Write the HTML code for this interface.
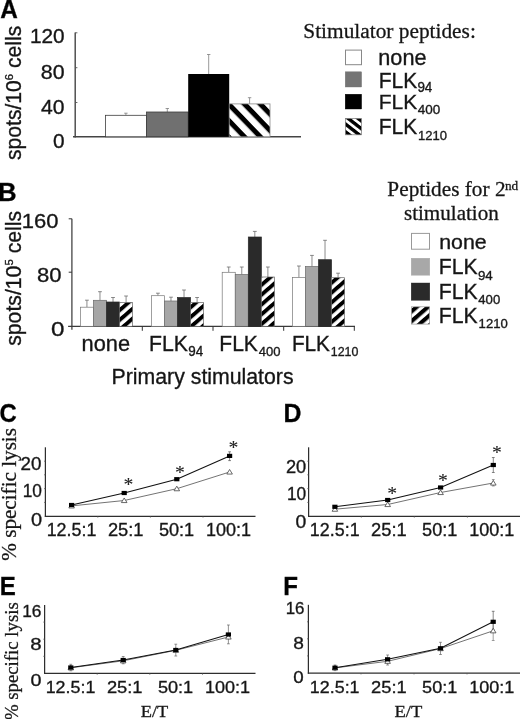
<!DOCTYPE html>
<html lang="en"><head><meta charset="utf-8"><title>Figure</title>
<style>
html,body{margin:0;padding:0;background:#fff;}
body{width:520px;height:719px;overflow:hidden;}
svg{display:block;}
.ss{font-family:"Liberation Sans", Arial, Helvetica, sans-serif;stroke:#222;stroke-width:0.35px;}
.sr{font-family:"Liberation Serif", "Times New Roman", Times, serif;stroke:#222;stroke-width:0.3px;}
</style></head><body>
<svg width="520" height="719" viewBox="0 0 520 719">
<rect x="0" y="0" width="520" height="719" fill="#fff"/>
<defs>
<pattern id="hA" width="11.4" height="11.4" patternUnits="userSpaceOnUse" patternTransform="translate(248.3 104.4) rotate(46)">
<rect width="11.4" height="11.4" fill="#fff"/><rect y="0" width="11.4" height="5.0" fill="#000"/></pattern>
<pattern id="hB" width="7.4" height="7.4" patternUnits="userSpaceOnUse" patternTransform="translate(118.9 308.3) rotate(-41)">
<rect width="7.4" height="7.4" fill="#fff"/><rect y="0" width="7.4" height="3.9" fill="#000"/></pattern>
<pattern id="hLA" width="6.1" height="6.1" patternUnits="userSpaceOnUse" patternTransform="translate(345 121.5) rotate(38)">
<rect width="6.1" height="6.1" fill="#fff"/><rect y="0" width="6.1" height="3.4" fill="#000"/></pattern>
<pattern id="hLB" width="7.4" height="7.4" patternUnits="userSpaceOnUse" patternTransform="translate(419.5 311.6) rotate(-41)">
<rect width="7.4" height="7.4" fill="#fff"/><rect y="0" width="7.4" height="4.1" fill="#000"/></pattern>
</defs>
<text class="ss" transform="translate(0.19 17.60) scale(0.954 1)" font-size="25.51" font-weight="bold" fill="#000">A</text>
<line x1="75.20" y1="32.50" x2="75.20" y2="137.40" stroke="#444" stroke-width="1.4"/>
<line x1="73.00" y1="136.80" x2="301.00" y2="136.80" stroke="#444" stroke-width="1.4"/>
<line x1="75.20" y1="32.80" x2="77.40" y2="32.80" stroke="#555" stroke-width="0.9"/>
<line x1="75.20" y1="67.70" x2="77.40" y2="67.70" stroke="#555" stroke-width="0.9"/>
<line x1="75.20" y1="102.50" x2="77.40" y2="102.50" stroke="#555" stroke-width="0.9"/>
<text class="ss" transform="translate(29.94 43.31) scale(1.069 1)" font-size="19.44" fill="#141414">120</text>
<text class="ss" transform="translate(40.84 78.70) scale(1.083 1)" font-size="19.72" fill="#141414">80</text>
<text class="ss" transform="translate(41.08 113.60) scale(1.057 1)" font-size="20.00" fill="#141414">40</text>
<text class="ss" transform="translate(52.97 147.81) scale(1.072 1)" font-size="19.44" fill="#141414">0</text>
<text class="ss" transform="translate(20.60 159.93) rotate(-90) scale(0.982 1)" font-size="21.50" fill="#141414">spots/10<tspan font-size="11.50" dy="-7.74">6</tspan><tspan dy="7.74"> cells</tspan></text>
<line x1="125.90" y1="113.20" x2="125.90" y2="115.30" stroke="#777" stroke-width="0.75"/>
<line x1="124.20" y1="113.20" x2="127.60" y2="113.20" stroke="#777" stroke-width="0.75"/>
<line x1="167.30" y1="108.50" x2="167.30" y2="112.00" stroke="#777" stroke-width="0.75"/>
<line x1="165.60" y1="108.50" x2="169.00" y2="108.50" stroke="#777" stroke-width="0.75"/>
<line x1="208.70" y1="54.50" x2="208.70" y2="74.00" stroke="#777" stroke-width="0.75"/>
<line x1="207.00" y1="54.50" x2="210.40" y2="54.50" stroke="#777" stroke-width="0.75"/>
<line x1="249.60" y1="97.70" x2="249.60" y2="103.90" stroke="#777" stroke-width="0.75"/>
<line x1="247.90" y1="97.70" x2="251.30" y2="97.70" stroke="#777" stroke-width="0.75"/>
<rect x="105.40" y="115.30" width="41.00" height="21.50" fill="#fff" stroke="#3c3c3c" stroke-width="0.8"/>
<rect x="146.40" y="112.00" width="41.80" height="24.80" fill="#707070" stroke="#3c3c3c" stroke-width="0.8"/>
<rect x="188.20" y="74.00" width="41.00" height="62.80" fill="#000" stroke="none" stroke-width="0"/>
<rect x="229.20" y="103.90" width="40.80" height="32.90" fill="url(#hA)" stroke="#888" stroke-width="0.8"/>
<text class="sr" transform="translate(303.31 38.06) scale(1.012 1)" font-size="21.10" fill="#141414">Stimulator peptides:</text>
<rect x="345.50" y="50.10" width="16.00" height="14.60" fill="#fff" stroke="#888" stroke-width="1"/>
<rect x="345.20" y="71.80" width="16.40" height="15.20" fill="#747474" stroke="#747474" stroke-width="0.4"/>
<rect x="345.20" y="94.20" width="16.40" height="14.80" fill="#000" stroke="#000" stroke-width="0.4"/>
<rect x="345.40" y="118.50" width="16.00" height="16.30" fill="url(#hLA)" stroke="#777" stroke-width="0.7"/>
<text class="ss" transform="translate(378.29 65.00) scale(1.010 1)" font-size="21.48" fill="#141414">none</text>
<text class="ss" transform="translate(378.72 87.50) scale(0.965 1)" font-size="21.74" fill="#141414">FLK<tspan x="40.08" y="4.78" font-size="13.92">94</tspan></text>
<text class="ss" transform="translate(378.72 109.00) scale(1.012 1)" font-size="20.72" fill="#141414">FLK<tspan x="38.54" y="5.18" font-size="13.32">400</tspan></text>
<text class="ss" transform="translate(378.72 134.40) scale(0.965 1)" font-size="21.74" fill="#141414">FLK<tspan x="40.73" y="5.68" font-size="13.52">1210</tspan></text>
<text class="ss" transform="translate(-2.07 201.40) scale(1.015 1)" font-size="25.36" font-weight="bold" fill="#000">B</text>
<line x1="71.90" y1="218.80" x2="71.90" y2="329.80" stroke="#444" stroke-width="1.3"/>
<line x1="68.10" y1="326.30" x2="355.00" y2="326.30" stroke="#3a3a3a" stroke-width="1.3"/>
<line x1="68.70" y1="218.80" x2="71.90" y2="218.80" stroke="#333" stroke-width="1"/>
<line x1="68.70" y1="272.20" x2="71.90" y2="272.20" stroke="#333" stroke-width="1"/>
<line x1="142.30" y1="326.30" x2="142.30" y2="330.80" stroke="#333" stroke-width="1"/>
<line x1="213.00" y1="326.30" x2="213.00" y2="330.80" stroke="#333" stroke-width="1"/>
<line x1="283.70" y1="326.30" x2="283.70" y2="330.80" stroke="#333" stroke-width="1"/>
<line x1="354.30" y1="326.30" x2="354.30" y2="330.80" stroke="#333" stroke-width="1"/>
<text class="ss" transform="translate(21.85 228.10) scale(1.092 1)" font-size="20.14" fill="#141414">160</text>
<text class="ss" transform="translate(36.91 281.50) scale(1.087 1)" font-size="20.28" fill="#141414">80</text>
<text class="ss" transform="translate(50.93 335.80) scale(1.183 1)" font-size="20.42" fill="#141414">0</text>
<text class="ss" transform="translate(20.90 345.84) rotate(-90) scale(0.988 1)" font-size="21.50" fill="#141414">spots/10<tspan font-size="11.50" dy="-7.74">5</tspan><tspan dy="7.74"> cells</tspan></text>
<line x1="86.93" y1="300.20" x2="86.93" y2="307.20" stroke="#666" stroke-width="0.75"/>
<line x1="85.03" y1="300.20" x2="88.83" y2="300.20" stroke="#666" stroke-width="0.75"/>
<line x1="99.98" y1="291.70" x2="99.98" y2="300.30" stroke="#666" stroke-width="0.75"/>
<line x1="98.08" y1="291.70" x2="101.88" y2="291.70" stroke="#666" stroke-width="0.75"/>
<line x1="113.03" y1="297.50" x2="113.03" y2="302.00" stroke="#666" stroke-width="0.75"/>
<line x1="111.12" y1="297.50" x2="114.93" y2="297.50" stroke="#666" stroke-width="0.75"/>
<line x1="126.08" y1="296.00" x2="126.08" y2="302.50" stroke="#666" stroke-width="0.75"/>
<line x1="124.18" y1="296.00" x2="127.98" y2="296.00" stroke="#666" stroke-width="0.75"/>
<rect x="80.40" y="307.20" width="13.05" height="19.10" fill="#fff" stroke="#777" stroke-width="0.7"/>
<rect x="93.45" y="300.30" width="13.05" height="26.00" fill="#a6a6a6" stroke="#6a6a6a" stroke-width="0.7"/>
<rect x="106.50" y="302.00" width="13.05" height="24.30" fill="#2a2a2a" stroke="#2a2a2a" stroke-width="0.7"/>
<rect x="119.55" y="302.50" width="13.05" height="23.80" fill="url(#hB)" stroke="#666" stroke-width="0.7"/>
<line x1="157.93" y1="293.20" x2="157.93" y2="295.70" stroke="#666" stroke-width="0.75"/>
<line x1="156.03" y1="293.20" x2="159.83" y2="293.20" stroke="#666" stroke-width="0.75"/>
<line x1="170.98" y1="297.20" x2="170.98" y2="301.00" stroke="#666" stroke-width="0.75"/>
<line x1="169.08" y1="297.20" x2="172.88" y2="297.20" stroke="#666" stroke-width="0.75"/>
<line x1="184.03" y1="290.00" x2="184.03" y2="297.50" stroke="#666" stroke-width="0.75"/>
<line x1="182.12" y1="290.00" x2="185.93" y2="290.00" stroke="#666" stroke-width="0.75"/>
<line x1="197.08" y1="297.50" x2="197.08" y2="302.50" stroke="#666" stroke-width="0.75"/>
<line x1="195.18" y1="297.50" x2="198.98" y2="297.50" stroke="#666" stroke-width="0.75"/>
<rect x="151.40" y="295.70" width="13.05" height="30.60" fill="#fff" stroke="#777" stroke-width="0.7"/>
<rect x="164.45" y="301.00" width="13.05" height="25.30" fill="#a6a6a6" stroke="#6a6a6a" stroke-width="0.7"/>
<rect x="177.50" y="297.50" width="13.05" height="28.80" fill="#2a2a2a" stroke="#2a2a2a" stroke-width="0.7"/>
<rect x="190.55" y="302.50" width="13.05" height="23.80" fill="url(#hB)" stroke="#666" stroke-width="0.7"/>
<line x1="228.72" y1="267.00" x2="228.72" y2="272.30" stroke="#666" stroke-width="0.75"/>
<line x1="226.82" y1="267.00" x2="230.62" y2="267.00" stroke="#666" stroke-width="0.75"/>
<line x1="241.78" y1="267.00" x2="241.78" y2="274.50" stroke="#666" stroke-width="0.75"/>
<line x1="239.88" y1="267.00" x2="243.68" y2="267.00" stroke="#666" stroke-width="0.75"/>
<line x1="254.82" y1="231.40" x2="254.82" y2="237.00" stroke="#666" stroke-width="0.75"/>
<line x1="252.92" y1="231.40" x2="256.72" y2="231.40" stroke="#666" stroke-width="0.75"/>
<line x1="267.88" y1="267.00" x2="267.88" y2="277.00" stroke="#666" stroke-width="0.75"/>
<line x1="265.98" y1="267.00" x2="269.77" y2="267.00" stroke="#666" stroke-width="0.75"/>
<rect x="222.20" y="272.30" width="13.05" height="54.00" fill="#fff" stroke="#777" stroke-width="0.7"/>
<rect x="235.25" y="274.50" width="13.05" height="51.80" fill="#a6a6a6" stroke="#6a6a6a" stroke-width="0.7"/>
<rect x="248.30" y="237.00" width="13.05" height="89.30" fill="#2a2a2a" stroke="#2a2a2a" stroke-width="0.7"/>
<rect x="261.35" y="277.00" width="13.05" height="49.30" fill="url(#hB)" stroke="#666" stroke-width="0.7"/>
<line x1="298.92" y1="266.00" x2="298.92" y2="277.50" stroke="#666" stroke-width="0.75"/>
<line x1="297.02" y1="266.00" x2="300.82" y2="266.00" stroke="#666" stroke-width="0.75"/>
<line x1="311.97" y1="255.40" x2="311.97" y2="266.50" stroke="#666" stroke-width="0.75"/>
<line x1="310.07" y1="255.40" x2="313.87" y2="255.40" stroke="#666" stroke-width="0.75"/>
<line x1="325.02" y1="240.30" x2="325.02" y2="259.70" stroke="#666" stroke-width="0.75"/>
<line x1="323.12" y1="240.30" x2="326.92" y2="240.30" stroke="#666" stroke-width="0.75"/>
<line x1="338.07" y1="273.20" x2="338.07" y2="277.70" stroke="#666" stroke-width="0.75"/>
<line x1="336.17" y1="273.20" x2="339.97" y2="273.20" stroke="#666" stroke-width="0.75"/>
<rect x="292.40" y="277.50" width="13.05" height="48.80" fill="#fff" stroke="#777" stroke-width="0.7"/>
<rect x="305.45" y="266.50" width="13.05" height="59.80" fill="#a6a6a6" stroke="#6a6a6a" stroke-width="0.7"/>
<rect x="318.50" y="259.70" width="13.05" height="66.60" fill="#2a2a2a" stroke="#2a2a2a" stroke-width="0.7"/>
<rect x="331.55" y="277.70" width="13.05" height="48.60" fill="url(#hB)" stroke="#666" stroke-width="0.7"/>
<text class="ss" transform="translate(81.58 351.00) scale(1.015 1)" font-size="21.48" fill="#141414">none</text>
<text class="ss" transform="translate(149.10 351.00) scale(0.976 1)" font-size="21.74" fill="#141414">FLK<tspan x="40.07" y="5.08" font-size="13.77">94</tspan></text>
<text class="ss" transform="translate(219.32 350.80) scale(0.981 1)" font-size="21.45" fill="#141414">FLK<tspan x="40.20" y="5.28" font-size="13.30">400</tspan></text>
<text class="ss" transform="translate(291.94 350.80) scale(0.967 1)" font-size="21.45" fill="#141414">FLK<tspan x="40.14" y="5.28" font-size="12.86">1210</tspan></text>
<text class="ss" transform="translate(111.59 383.53)" font-size="21.28" fill="#141414">Primary stimulators</text>
<text class="sr" transform="translate(387.36 195.80) scale(1.035 1)" font-size="20.57" fill="#141414">Peptides for 2<tspan x="113.64" y="-5.61" font-size="12.85">nd</tspan></text>
<text class="sr" transform="translate(403.96 220.20) scale(1.032 1)" font-size="20.43" fill="#141414">stimulation</text>
<rect x="411.50" y="233.40" width="18.00" height="15.80" fill="#fff" stroke="#999" stroke-width="1"/>
<rect x="411.20" y="258.20" width="18.60" height="17.00" fill="#a8a8a8" stroke="#a8a8a8" stroke-width="0.4"/>
<rect x="411.20" y="283.00" width="18.60" height="17.30" fill="#2a2a2a" stroke="#2a2a2a" stroke-width="0.4"/>
<rect x="411.40" y="306.80" width="18.20" height="17.30" fill="url(#hLB)" stroke="#999" stroke-width="0.7"/>
<text class="ss" transform="translate(439.21 249.00) scale(1.079 1)" font-size="19.81" fill="#141414">none</text>
<text class="ss" transform="translate(438.70 274.20) scale(0.976 1)" font-size="21.74" fill="#141414">FLK<tspan x="40.18" y="5.68" font-size="13.67">94</tspan></text>
<text class="ss" transform="translate(438.70 299.20) scale(0.976 1)" font-size="21.74" fill="#141414">FLK<tspan x="40.53" y="4.88" font-size="13.50">400</tspan></text>
<text class="ss" transform="translate(438.70 323.40) scale(1.002 1)" font-size="21.16" fill="#141414">FLK<tspan x="39.82" y="4.99" font-size="13.07">1210</tspan></text>
<text class="ss" transform="translate(-0.45 422.25) scale(0.934 1)" font-size="25.49" font-weight="bold" fill="#000">C</text>
<line x1="45.40" y1="447.30" x2="45.40" y2="516.90" stroke="#2e2e2e" stroke-width="1.25"/>
<line x1="44.80" y1="516.30" x2="255.50" y2="516.30" stroke="#2e2e2e" stroke-width="1.25"/>
<line x1="44.10" y1="461.20" x2="45.40" y2="461.20" stroke="#555" stroke-width="0.8"/>
<line x1="44.10" y1="474.80" x2="45.40" y2="474.80" stroke="#555" stroke-width="0.8"/>
<line x1="44.10" y1="488.60" x2="45.40" y2="488.60" stroke="#555" stroke-width="0.8"/>
<line x1="44.10" y1="502.40" x2="45.40" y2="502.40" stroke="#555" stroke-width="0.8"/>
<line x1="97.80" y1="516.30" x2="97.80" y2="517.60" stroke="#555" stroke-width="0.8"/>
<line x1="150.40" y1="516.30" x2="150.40" y2="517.60" stroke="#555" stroke-width="0.8"/>
<line x1="203.00" y1="516.30" x2="203.00" y2="517.60" stroke="#555" stroke-width="0.8"/>
<text class="ss" transform="translate(20.56 470.02) scale(1.036 1)" font-size="18.17" fill="#141414">20</text>
<text class="ss" transform="translate(22.70 496.82) scale(0.975 1)" font-size="17.75" fill="#141414">10</text>
<text class="ss" transform="translate(30.90 525.62) scale(1.084 1)" font-size="18.45" fill="#141414">0</text>
<line x1="229.60" y1="451.80" x2="229.60" y2="460.60" stroke="#555" stroke-width="0.7"/>
<line x1="228.20" y1="451.80" x2="231.00" y2="451.80" stroke="#555" stroke-width="0.7"/>
<line x1="228.20" y1="460.60" x2="231.00" y2="460.60" stroke="#555" stroke-width="0.7"/>
<polyline points="71.60,505.90 124.20,500.50 176.80,488.70 229.60,472.00" fill="none" stroke="#5a5a5a" stroke-width="0.85"/>
<polyline points="71.60,505.00 124.20,493.00 176.80,479.20 229.60,455.90" fill="none" stroke="#111" stroke-width="1.05"/>
<path d="M68.80 507.97 L74.40 507.97 L71.60 503.37 Z" fill="#fff" stroke="#444" stroke-width="0.8"/>
<path d="M121.40 502.57 L127.00 502.57 L124.20 497.97 Z" fill="#fff" stroke="#444" stroke-width="0.8"/>
<path d="M174.00 490.77 L179.60 490.77 L176.80 486.17 Z" fill="#fff" stroke="#444" stroke-width="0.8"/>
<path d="M226.80 474.07 L232.40 474.07 L229.60 469.47 Z" fill="#fff" stroke="#444" stroke-width="0.8"/>
<rect x="69.00" y="502.90" width="5.2" height="4.2" fill="#000"/>
<rect x="121.60" y="490.90" width="5.2" height="4.2" fill="#000"/>
<rect x="174.20" y="477.10" width="5.2" height="4.2" fill="#000"/>
<rect x="227.00" y="453.80" width="5.2" height="4.2" fill="#000"/>
<text class="sr" x="123.60" y="491.02" font-size="19.73" fill="#222" style="stroke-width:0.1px">*</text>
<text class="sr" x="175.00" y="478.82" font-size="19.73" fill="#222" style="stroke-width:0.1px">*</text>
<text class="sr" x="228.50" y="454.12" font-size="19.73" fill="#222" style="stroke-width:0.1px">*</text>
<text class="ss" transform="translate(46.66 535.62) scale(0.993 1)" font-size="18.03" fill="#141414">12.5:1</text>
<text class="ss" transform="translate(107.88 535.62) scale(1.016 1)" font-size="18.03" fill="#141414">25:1</text>
<text class="ss" transform="translate(158.88 535.62) scale(1.005 1)" font-size="18.03" fill="#141414">50:1</text>
<text class="ss" transform="translate(205.94 535.62)" font-size="18.03" fill="#141414">100:1</text>
<text class="ss" transform="translate(283.38 422.20) scale(0.987 1)" font-size="25.22" font-weight="bold" fill="#000">D</text>
<line x1="308.60" y1="447.30" x2="308.60" y2="516.90" stroke="#2e2e2e" stroke-width="1.25"/>
<line x1="308.00" y1="516.30" x2="520.00" y2="516.30" stroke="#2e2e2e" stroke-width="1.25"/>
<line x1="307.30" y1="461.20" x2="308.60" y2="461.20" stroke="#555" stroke-width="0.8"/>
<line x1="307.30" y1="474.80" x2="308.60" y2="474.80" stroke="#555" stroke-width="0.8"/>
<line x1="307.30" y1="488.60" x2="308.60" y2="488.60" stroke="#555" stroke-width="0.8"/>
<line x1="307.30" y1="502.40" x2="308.60" y2="502.40" stroke="#555" stroke-width="0.8"/>
<line x1="361.30" y1="516.30" x2="361.30" y2="517.60" stroke="#555" stroke-width="0.8"/>
<line x1="414.30" y1="516.30" x2="414.30" y2="517.60" stroke="#555" stroke-width="0.8"/>
<line x1="467.40" y1="516.30" x2="467.40" y2="517.60" stroke="#555" stroke-width="0.8"/>
<text class="ss" transform="translate(285.99 473.12) scale(1.036 1)" font-size="17.61" fill="#141414">20</text>
<text class="ss" transform="translate(287.00 500.42) scale(0.975 1)" font-size="17.75" fill="#141414">10</text>
<text class="ss" transform="translate(295.53 527.83) scale(1.109 1)" font-size="17.46" fill="#141414">0</text>
<line x1="493.30" y1="457.50" x2="493.30" y2="472.50" stroke="#555" stroke-width="0.7"/>
<line x1="491.90" y1="457.50" x2="494.70" y2="457.50" stroke="#555" stroke-width="0.7"/>
<line x1="491.90" y1="472.50" x2="494.70" y2="472.50" stroke="#555" stroke-width="0.7"/>
<line x1="493.30" y1="479.50" x2="493.30" y2="486.00" stroke="#777" stroke-width="0.7"/>
<line x1="491.90" y1="479.50" x2="494.70" y2="479.50" stroke="#777" stroke-width="0.7"/>
<line x1="491.90" y1="486.00" x2="494.70" y2="486.00" stroke="#777" stroke-width="0.7"/>
<polyline points="334.90,509.20 387.70,504.50 440.60,492.50 493.30,483.00" fill="none" stroke="#5a5a5a" stroke-width="0.85"/>
<polyline points="334.90,506.80 387.70,500.00 440.60,487.50 493.30,465.00" fill="none" stroke="#111" stroke-width="1.05"/>
<path d="M332.10 511.27 L337.70 511.27 L334.90 506.67 Z" fill="#fff" stroke="#444" stroke-width="0.8"/>
<path d="M384.90 506.57 L390.50 506.57 L387.70 501.97 Z" fill="#fff" stroke="#444" stroke-width="0.8"/>
<path d="M437.80 494.57 L443.40 494.57 L440.60 489.97 Z" fill="#fff" stroke="#444" stroke-width="0.8"/>
<path d="M490.50 485.07 L496.10 485.07 L493.30 480.47 Z" fill="#fff" stroke="#444" stroke-width="0.8"/>
<rect x="332.30" y="504.70" width="5.2" height="4.2" fill="#000"/>
<rect x="385.10" y="497.90" width="5.2" height="4.2" fill="#000"/>
<rect x="438.00" y="485.40" width="5.2" height="4.2" fill="#000"/>
<rect x="490.70" y="462.90" width="5.2" height="4.2" fill="#000"/>
<text class="sr" x="387.30" y="500.32" font-size="19.73" fill="#222" style="stroke-width:0.1px">*</text>
<text class="sr" x="438.00" y="487.32" font-size="19.73" fill="#222" style="stroke-width:0.1px">*</text>
<text class="sr" x="491.90" y="459.12" font-size="19.73" fill="#222" style="stroke-width:0.1px">*</text>
<text class="ss" transform="translate(309.86 536.12) scale(1.008 1)" font-size="17.75" fill="#141414">12.5:1</text>
<text class="ss" transform="translate(371.08 536.12) scale(1.033 1)" font-size="17.75" fill="#141414">25:1</text>
<text class="ss" transform="translate(422.08 536.12) scale(1.021 1)" font-size="17.75" fill="#141414">50:1</text>
<text class="ss" transform="translate(469.14 536.12) scale(1.018 1)" font-size="17.75" fill="#141414">100:1</text>
<text class="ss" transform="translate(-0.26 594.60) scale(0.955 1)" font-size="25.22" font-weight="bold" fill="#000">E</text>
<line x1="44.60" y1="605.00" x2="44.60" y2="674.00" stroke="#2e2e2e" stroke-width="1.25"/>
<line x1="44.00" y1="673.40" x2="255.50" y2="673.40" stroke="#2e2e2e" stroke-width="1.25"/>
<line x1="43.30" y1="622.10" x2="44.60" y2="622.10" stroke="#555" stroke-width="0.8"/>
<line x1="43.30" y1="639.20" x2="44.60" y2="639.20" stroke="#555" stroke-width="0.8"/>
<line x1="43.30" y1="656.30" x2="44.60" y2="656.30" stroke="#555" stroke-width="0.8"/>
<line x1="97.20" y1="673.40" x2="97.20" y2="674.70" stroke="#555" stroke-width="0.8"/>
<line x1="149.80" y1="673.40" x2="149.80" y2="674.70" stroke="#555" stroke-width="0.8"/>
<line x1="202.50" y1="673.40" x2="202.50" y2="674.70" stroke="#555" stroke-width="0.8"/>
<text class="ss" transform="translate(22.20 616.63)" font-size="17.32" fill="#141414">16</text>
<text class="ss" transform="translate(30.28 650.43) scale(1.199 1)" font-size="17.04" fill="#141414">8</text>
<text class="ss" transform="translate(30.51 685.53) scale(1.161 1)" font-size="17.04" fill="#141414">0</text>
<line x1="70.80" y1="664.30" x2="70.80" y2="670.80" stroke="#666" stroke-width="0.7"/>
<line x1="69.40" y1="664.30" x2="72.20" y2="664.30" stroke="#666" stroke-width="0.7"/>
<line x1="69.40" y1="670.80" x2="72.20" y2="670.80" stroke="#666" stroke-width="0.7"/>
<line x1="123.20" y1="656.50" x2="123.20" y2="663.80" stroke="#666" stroke-width="0.7"/>
<line x1="121.80" y1="656.50" x2="124.60" y2="656.50" stroke="#666" stroke-width="0.7"/>
<line x1="121.80" y1="663.80" x2="124.60" y2="663.80" stroke="#666" stroke-width="0.7"/>
<line x1="175.80" y1="644.20" x2="175.80" y2="656.00" stroke="#666" stroke-width="0.7"/>
<line x1="174.40" y1="644.20" x2="177.20" y2="644.20" stroke="#666" stroke-width="0.7"/>
<line x1="174.40" y1="656.00" x2="177.20" y2="656.00" stroke="#666" stroke-width="0.7"/>
<line x1="228.40" y1="625.00" x2="228.40" y2="643.80" stroke="#666" stroke-width="0.7"/>
<line x1="227.00" y1="625.00" x2="229.80" y2="625.00" stroke="#666" stroke-width="0.7"/>
<line x1="227.00" y1="643.80" x2="229.80" y2="643.80" stroke="#666" stroke-width="0.7"/>
<polyline points="70.80,667.80 123.20,660.80 175.80,650.30 228.40,637.00" fill="none" stroke="#5a5a5a" stroke-width="0.85"/>
<polyline points="70.80,667.50 123.20,660.00 175.80,650.00 228.40,634.50" fill="none" stroke="#111" stroke-width="1.05"/>
<path d="M68.00 669.87 L73.60 669.87 L70.80 665.27 Z" fill="#fff" stroke="#444" stroke-width="0.8"/>
<path d="M120.40 662.87 L126.00 662.87 L123.20 658.27 Z" fill="#fff" stroke="#444" stroke-width="0.8"/>
<path d="M173.00 652.37 L178.60 652.37 L175.80 647.77 Z" fill="#fff" stroke="#444" stroke-width="0.8"/>
<path d="M225.60 639.07 L231.20 639.07 L228.40 634.47 Z" fill="#fff" stroke="#444" stroke-width="0.8"/>
<rect x="68.20" y="665.40" width="5.2" height="4.2" fill="#000"/>
<rect x="120.60" y="657.90" width="5.2" height="4.2" fill="#000"/>
<rect x="173.20" y="647.90" width="5.2" height="4.2" fill="#000"/>
<rect x="225.80" y="632.40" width="5.2" height="4.2" fill="#000"/>
<text class="ss" transform="translate(45.66 693.33) scale(1.041 1)" font-size="17.18" fill="#141414">12.5:1</text>
<text class="ss" transform="translate(106.88 693.33) scale(1.066 1)" font-size="17.18" fill="#141414">25:1</text>
<text class="ss" transform="translate(157.88 693.33) scale(1.054 1)" font-size="17.18" fill="#141414">50:1</text>
<text class="ss" transform="translate(204.94 693.33) scale(1.051 1)" font-size="17.18" fill="#141414">100:1</text>
<text class="ss" transform="translate(283.33 594.60) scale(0.946 1)" font-size="25.51" font-weight="bold" fill="#000">F</text>
<line x1="308.40" y1="604.80" x2="308.40" y2="673.70" stroke="#2e2e2e" stroke-width="1.25"/>
<line x1="307.80" y1="673.10" x2="520.00" y2="673.10" stroke="#2e2e2e" stroke-width="1.25"/>
<line x1="307.10" y1="621.80" x2="308.40" y2="621.80" stroke="#555" stroke-width="0.8"/>
<line x1="307.10" y1="638.80" x2="308.40" y2="638.80" stroke="#555" stroke-width="0.8"/>
<line x1="307.10" y1="655.90" x2="308.40" y2="655.90" stroke="#555" stroke-width="0.8"/>
<line x1="361.00" y1="673.10" x2="361.00" y2="674.40" stroke="#555" stroke-width="0.8"/>
<line x1="414.00" y1="673.10" x2="414.00" y2="674.40" stroke="#555" stroke-width="0.8"/>
<line x1="467.00" y1="673.10" x2="467.00" y2="674.40" stroke="#555" stroke-width="0.8"/>
<text class="ss" transform="translate(285.63 613.63) scale(0.975 1)" font-size="17.32" fill="#141414">16</text>
<text class="ss" transform="translate(293.14 648.53) scale(1.114 1)" font-size="17.18" fill="#141414">8</text>
<text class="ss" transform="translate(293.25 682.53) scale(1.100 1)" font-size="17.04" fill="#141414">0</text>
<line x1="335.00" y1="665.00" x2="335.00" y2="670.60" stroke="#666" stroke-width="0.7"/>
<line x1="333.60" y1="665.00" x2="336.40" y2="665.00" stroke="#666" stroke-width="0.7"/>
<line x1="333.60" y1="670.60" x2="336.40" y2="670.60" stroke="#666" stroke-width="0.7"/>
<line x1="387.60" y1="655.00" x2="387.60" y2="665.00" stroke="#666" stroke-width="0.7"/>
<line x1="386.20" y1="655.00" x2="389.00" y2="655.00" stroke="#666" stroke-width="0.7"/>
<line x1="386.20" y1="665.00" x2="389.00" y2="665.00" stroke="#666" stroke-width="0.7"/>
<line x1="440.50" y1="642.30" x2="440.50" y2="654.50" stroke="#666" stroke-width="0.7"/>
<line x1="439.10" y1="642.30" x2="441.90" y2="642.30" stroke="#666" stroke-width="0.7"/>
<line x1="439.10" y1="654.50" x2="441.90" y2="654.50" stroke="#666" stroke-width="0.7"/>
<line x1="493.20" y1="611.30" x2="493.20" y2="630.00" stroke="#555" stroke-width="0.7"/>
<line x1="491.80" y1="611.30" x2="494.60" y2="611.30" stroke="#555" stroke-width="0.7"/>
<line x1="491.80" y1="630.00" x2="494.60" y2="630.00" stroke="#555" stroke-width="0.7"/>
<line x1="493.20" y1="622.00" x2="493.20" y2="640.50" stroke="#777" stroke-width="0.7"/>
<line x1="491.80" y1="622.00" x2="494.60" y2="622.00" stroke="#777" stroke-width="0.7"/>
<line x1="491.80" y1="640.50" x2="494.60" y2="640.50" stroke="#777" stroke-width="0.7"/>
<polyline points="335.00,667.90 387.60,661.30 440.50,648.60 493.20,630.80" fill="none" stroke="#5a5a5a" stroke-width="0.85"/>
<polyline points="335.00,667.70 387.60,659.30 440.50,648.30 493.20,621.80" fill="none" stroke="#111" stroke-width="1.05"/>
<path d="M332.20 669.97 L337.80 669.97 L335.00 665.37 Z" fill="#fff" stroke="#444" stroke-width="0.8"/>
<path d="M384.80 663.37 L390.40 663.37 L387.60 658.77 Z" fill="#fff" stroke="#444" stroke-width="0.8"/>
<path d="M437.70 650.67 L443.30 650.67 L440.50 646.07 Z" fill="#fff" stroke="#444" stroke-width="0.8"/>
<path d="M490.40 632.87 L496.00 632.87 L493.20 628.27 Z" fill="#fff" stroke="#444" stroke-width="0.8"/>
<rect x="332.40" y="665.60" width="5.2" height="4.2" fill="#000"/>
<rect x="385.00" y="657.20" width="5.2" height="4.2" fill="#000"/>
<rect x="437.90" y="646.20" width="5.2" height="4.2" fill="#000"/>
<rect x="490.60" y="619.70" width="5.2" height="4.2" fill="#000"/>
<text class="ss" transform="translate(309.86 692.83) scale(1.041 1)" font-size="17.18" fill="#141414">12.5:1</text>
<text class="ss" transform="translate(371.08 692.83) scale(1.066 1)" font-size="17.18" fill="#141414">25:1</text>
<text class="ss" transform="translate(422.08 692.83) scale(1.054 1)" font-size="17.18" fill="#141414">50:1</text>
<text class="ss" transform="translate(469.14 692.83) scale(1.051 1)" font-size="17.18" fill="#141414">100:1</text>
<text class="sr" transform="translate(15.80 560.74) rotate(-90) scale(0.993 1)" font-size="21.30" fill="#141414">% specific lysis</text>
<text class="sr" transform="translate(18.30 720.06) rotate(-90) scale(0.968 1)" font-size="19.40" fill="#141414">% specific lysis</text>
<text class="sr" transform="translate(140.70 717.33) scale(1.095 1)" font-size="16.79" fill="#141414">E/T</text>
<text class="sr" transform="translate(394.44 717.33) scale(1.105 1)" font-size="16.79" fill="#141414">E/T</text>
</svg>
</body></html>
